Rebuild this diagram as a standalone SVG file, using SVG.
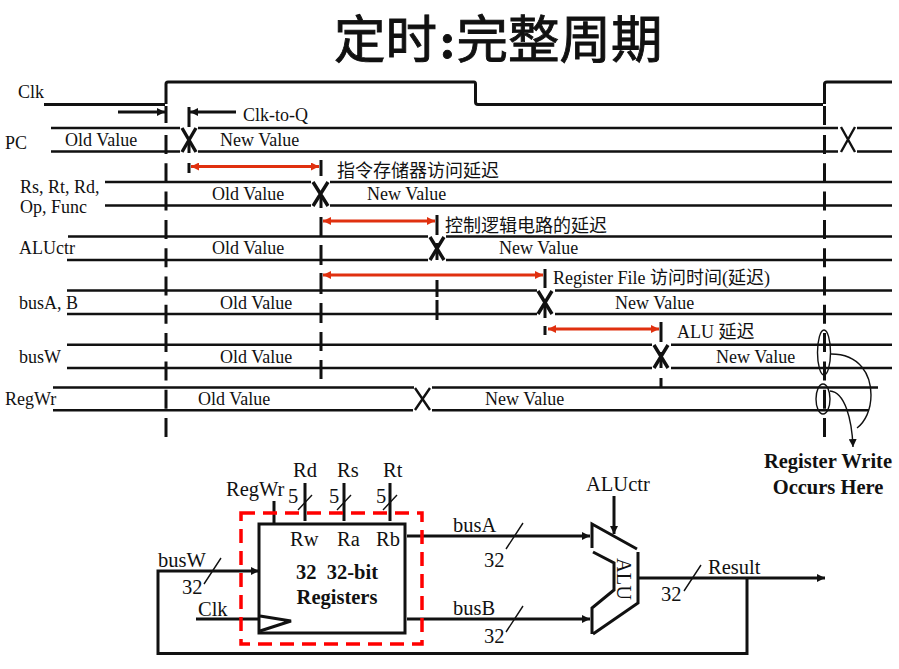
<svg xmlns="http://www.w3.org/2000/svg" width="899" height="669" viewBox="0 0 899 669">
<style>
text{font-family:"Liberation Serif","Noto Sans CJK SC",serif;font-size:18px;fill:#111}
.l{font-size:20.500px}
.m{text-anchor:middle}
.b{font-weight:bold}
.s{fill:none;stroke:#111;stroke-width:3}
.w{fill:none;stroke:#111;stroke-width:2.6}
.th{fill:none;stroke:#111;stroke-width:1.4}
.d{fill:none;stroke:#111;stroke-width:3}
.x{fill:none;stroke:#111;stroke-width:3.400}
.x2{fill:none;stroke:#111;stroke-width:2.400}
.r{fill:none;stroke:#e0300f;stroke-width:3;marker-start:url(#rs);marker-end:url(#re)}
</style>
<defs>
<marker id="re" markerWidth="9" markerHeight="8" refX="8" refY="4" orient="auto" markerUnits="userSpaceOnUse"><path d="M0 0L8 4L0 8z" fill="#e0300f"/></marker>
<marker id="rs" markerWidth="9" markerHeight="8" refX="0" refY="4" orient="auto" markerUnits="userSpaceOnUse"><path d="M8 0L0 4L8 8z" fill="#e0300f"/></marker>
<marker id="k" markerWidth="9" markerHeight="8" refX="8" refY="4" orient="auto" markerUnits="userSpaceOnUse"><path d="M0 0L8 4L0 8z" fill="#111"/></marker>
</defs>
<text x="334 385.500 439 456.500 508 559.500 611" y="58" style="font-size:51.500px;stroke:#111;stroke-width:.9">定时<tspan class="b">:</tspan>完整周期</text>
<g id="connectors">
<path class="s" d="M44 104.500H165M166 104V84Q166 82 168 82H474Q475.500 82 475.500 84V102Q475.500 104.500 478 104.500H823M824.500 104V84Q824.500 82 827 82H892"/>
<path class="d" d="M166 106V123M166 135V438M824.500 106V127M824.500 135V438" stroke-dasharray="19 9.300"/>
<path class="w" d="M51 128H180M198 128H838M857 128H892M51 151.500H180M198 151.500H838M857 151.500H892"/>
<path class="w" d="M105 182H311M330 182H892M105 205.500H311M330 205.500H892"/>
<path class="w" d="M68 236.500H428M446 236.500H892M67 260H428M446 260H892"/>
<path class="w" d="M67 290.500H537M555 290.500H892M67 314H537M555 314H892"/>
<path class="w" d="M67 344.700H652M671 344.700H892M67 368H652M671 368H892"/>
<path class="w" d="M53 387.500H414M432 387.500H878M53 410.300H413M432 410.300H869"/>
<path class="x" d="M182 128L196 152M196 128L182 152M313 182L328 206M328 182L313 206M430 237L444 260M444 237L430 260M538 291L552 314M552 291L538 314M654 345L668 368M668 345L654 368"/>
<path class="x2" d="M415 388L430 410M430 388L415 410M841 127L855 152M855 127L841 152"/>
<path class="d" d="M189 107V127M189 140V153M189 163V173M321 160V176M321 195V208M321 217V237M321 245V265M321 273V294M321 303V323M321 332V351M321 360V379M437 215V235M437 243V260M437 280V297M437 300V320M545 269V288M545 305V318M545 326V335M661 322V342M661 352V368M661 378V388"/>
<path class="s" marker-end="url(#k)" d="M118 112H165"/>
<path class="s" marker-end="url(#k)" d="M236 112H190"/>
<path class="r" d="M191 166.500H319"/>
<path class="r" d="M323 221H435"/>
<path class="r" d="M323 275H543"/>
<path class="r" d="M548 329H659"/>
<ellipse class="th" cx="824" cy="352.500" rx="6.500" ry="22.500"/>
<ellipse class="th" cx="823" cy="399" rx="7" ry="15"/>
<path class="th" d="M831 354C860 354 871 375 871 395C871 410 865 422 857 428"/>
<path class="th" marker-end="url(#k)" d="M830 391C845 392 852 420 853 447"/>
<path class="s" d="M274 501V524M305 483V521M344 483V521M390 483V521"/>
<path class="th" d="M298 510L312 495M337 510L351 495M383 510L397 495M204 584L221 558M506 549L523 523M506 632L523 606M684 591L701 565"/>
<path class="s" d="M747 578V653.500H158V571H200"/>
<path class="s" marker-end="url(#k)" d="M200 571H259"/>
<path class="s" d="M196 619H259"/>
<path class="s" marker-end="url(#k)" d="M407 536H590"/>
<path class="s" marker-end="url(#k)" d="M407 619H590"/>
<path class="s" marker-end="url(#k)" d="M638 578H825"/>
<path class="s" marker-end="url(#k)" d="M614 496V534"/>
</g>
<g id="timing-labels">
<text x="18" y="98">Clk</text>
<text x="243" y="121">Clk-to-Q</text>
<text x="5" y="149">PC</text>
<text x="65" y="146">Old Value</text>
<text x="220" y="146">New Value</text>
<text x="20" y="193">Rs, Rt, Rd,</text>
<text x="20" y="213">Op, Func</text>
<text x="212" y="200">Old Value</text>
<text x="367" y="200">New Value</text>
<text x="337" y="177">指令存储器访问延迟</text>
<text x="19" y="254">ALUctr</text>
<text x="212" y="254">Old Value</text>
<text x="499" y="254">New Value</text>
<text x="445" y="232">控制逻辑电路的延迟</text>
<text x="19" y="309">busA, B</text>
<text x="220" y="309">Old Value</text>
<text x="615" y="309">New Value</text>
<text x="553" y="284">Register File 访问时间(延迟)</text>
<text x="19" y="363">busW</text>
<text x="220" y="363">Old Value</text>
<text x="716" y="363">New Value</text>
<text x="677" y="338">ALU 延迟</text>
<text x="5" y="405">RegWr</text>
<text x="198" y="405">Old Value</text>
<text x="485" y="405">New Value</text>
<text x="828" y="468" class="m b l">Register Write</text>
<text x="828" y="494" class="m b l">Occurs Here</text>
</g>
<g id="register-file">
<rect x="259" y="524" width="146" height="109" fill="none" stroke="#111" stroke-width="3"/>
<path class="s" d="M260 616L291 621L260 631"/>
<text x="290" y="546" class="l">Rw</text><text x="337" y="546" class="l">Ra</text><text x="376" y="546" class="l">Rb</text>
<text x="337" y="579" class="m b l" xml:space="preserve">32  32-bit</text>
<text x="337" y="604" class="m b l">Registers</text>
<rect x="241" y="513" width="181" height="131" fill="none" stroke="#f00" stroke-width="3.500" stroke-dasharray="14 8"/>
</g>
<g id="bus-labels">
<text x="226" y="496" class="l">RegWr</text>
<text x="293" y="477" class="l">Rd</text><text x="337" y="477" class="l">Rs</text><text x="383" y="477" class="l">Rt</text>
<text x="288" y="503" class="l">5</text><text x="329" y="503" class="l">5</text><text x="376" y="503" class="l">5</text>
<text x="158" y="567" class="l">busW</text>
<text x="182" y="594" class="l">32</text>
<text x="198" y="616" class="l">Clk</text>
<text x="453" y="532" class="l">busA</text>
<text x="484" y="567" class="l">32</text>
<text x="453" y="615" class="l">busB</text>
<text x="484" y="643" class="l">32</text>
<text x="586" y="491" class="l">ALUctr</text>
<text x="708" y="574" class="l">Result</text>
<text x="661" y="601" class="l">32</text>
</g>
<g id="alu">
<path class="s" d="M592 548V524L637 549M638 552V603L593 634M592 634V608L614 590V563L593 552"/>
<text transform="translate(617,558) rotate(90)" class="l">ALU</text>
</g>
</svg>
